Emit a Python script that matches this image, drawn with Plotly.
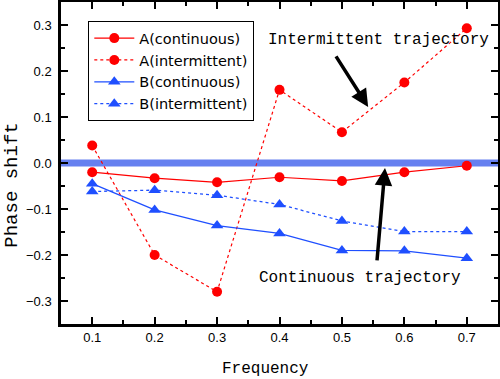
import plotly.graph_objects as go

freq = [0.1, 0.2, 0.3, 0.4, 0.5, 0.6, 0.7]
a_cont = [-0.020, -0.033, -0.042, -0.031, -0.039, -0.020, -0.006]
a_inter = [0.038, -0.200, -0.280, 0.159, 0.067, 0.175, 0.293]
b_cont = [-0.045, -0.102, -0.136, -0.153, -0.190, -0.191, -0.207]
b_inter = [-0.062, -0.059, -0.070, -0.090, -0.126, -0.149, -0.149]
x_ticks = [0.1, 0.2, 0.3, 0.4, 0.5, 0.6, 0.7]
y_ticks = [-0.3, -0.2, -0.1, 0.0, 0.1, 0.2, 0.3]

RED = "#ff0000"
BLUE = "#1f4fff"

fig = go.Figure()
fig.add_trace(go.Scatter(x=freq, y=a_cont, name="A(continuous)", mode="lines+markers",
                         line=dict(color=RED, width=1.2, dash="solid"),
                         marker=dict(symbol="circle", size=10, color=RED)))
fig.add_trace(go.Scatter(x=freq, y=a_inter, name="A(intermittent)", mode="lines+markers",
                         line=dict(color=RED, width=1.2, dash="dot"),
                         marker=dict(symbol="circle", size=10, color=RED)))
fig.add_trace(go.Scatter(x=freq, y=b_cont, name="B(continuous)", mode="lines+markers",
                         line=dict(color=BLUE, width=1.3, dash="solid"),
                         marker=dict(symbol="triangle-up", size=11, color=BLUE)))
fig.add_trace(go.Scatter(x=freq, y=b_inter, name="B(intermittent)", mode="lines+markers",
                         line=dict(color=BLUE, width=1.3, dash="dot"),
                         marker=dict(symbol="triangle-up", size=11, color=BLUE)))

fig.add_shape(type="line", xref="paper", yref="y", x0=0, x1=1, y0=0, y1=0,
              line=dict(color="#6680f0", width=7), layer="below")

mono = "Liberation Mono, DejaVu Sans Mono, monospace"
fig.add_annotation(x=0.558, y=0.267, text="Intermittent trajectory", showarrow=False,
                   xanchor="center", yanchor="middle",
                   font=dict(family=mono, size=16, color="black"))
fig.add_annotation(x=0.529, y=-0.25, text="Continuous trajectory", showarrow=False,
                   xanchor="center", yanchor="middle",
                   font=dict(family=mono, size=16, color="black"))
fig.add_annotation(x=0.542, y=0.122, ax=0.489, ay=0.235, axref="x", ayref="y",
                   xref="x", yref="y", text="", showarrow=True,
                   arrowhead=2, arrowsize=1, arrowwidth=3.5, arrowcolor="black")
fig.add_annotation(x=0.569, y=-0.011, ax=0.556, ay=-0.215, axref="x", ayref="y",
                   xref="x", yref="y", text="", showarrow=True,
                   arrowhead=2, arrowsize=1, arrowwidth=3.5, arrowcolor="black")
# axis titles as annotations (positioned as in the reference)
fig.add_annotation(x=0.469, y=-0.14, xref="paper", yref="paper", text="Frequency",
                   xanchor="center", yanchor="middle",
                   showarrow=False, font=dict(family=mono, size=16, color="black"))
fig.add_annotation(x=-0.114, y=0.43, xref="paper", yref="paper", text="Phase shift",
                   xanchor="center", yanchor="middle",
                   textangle=-90, showarrow=False,
                   font=dict(family=mono, size=19, color="black"))

axis_common = dict(showgrid=False, zeroline=False, showline=True, linecolor="black",
                   linewidth=2.5, mirror="ticks", ticks="inside", ticklen=7,
                   tickwidth=2, tickcolor="black", automargin=False,
                   tickfont=dict(family="Liberation Sans, Arial, sans-serif", size=13, color="black"))

fig.update_xaxes(range=[0.05, 0.75], tickvals=x_ticks, tickformat=".1f",
                 minor=dict(ticks="inside", ticklen=4, tickwidth=2, dtick=0.05, tick0=0.05,
                            tickcolor="black"),
                 **axis_common)
fig.update_yaxes(range=[-0.35, 0.35], tickvals=y_ticks, tickformat=".1f",
                 minor=dict(ticks="inside", ticklen=4, tickwidth=2, dtick=0.05, tick0=0.05,
                            tickcolor="black"),
                 ticklabelstandoff=4,
                 **axis_common)

fig.update_layout(
    width=500, height=379,
    margin=dict(l=61, r=2, t=2, b=55),
    plot_bgcolor="white", paper_bgcolor="white",
    showlegend=True,
    legend=dict(x=0.062, y=0.941, xanchor="left", yanchor="top",
                bgcolor="white", bordercolor="black", borderwidth=1.2,
                font=dict(family="DejaVu Sans, sans-serif", size=14.5, color="black"),
                tracegroupgap=0, itemwidth=40),
)

fig.write_html("out.html", config={"displayModeBar": False},
               post_script="document.documentElement.style.margin='0';"
                           "document.body.style.margin='0';document.body.style.padding='0';"
                           "document.body.style.overflow='hidden';")
